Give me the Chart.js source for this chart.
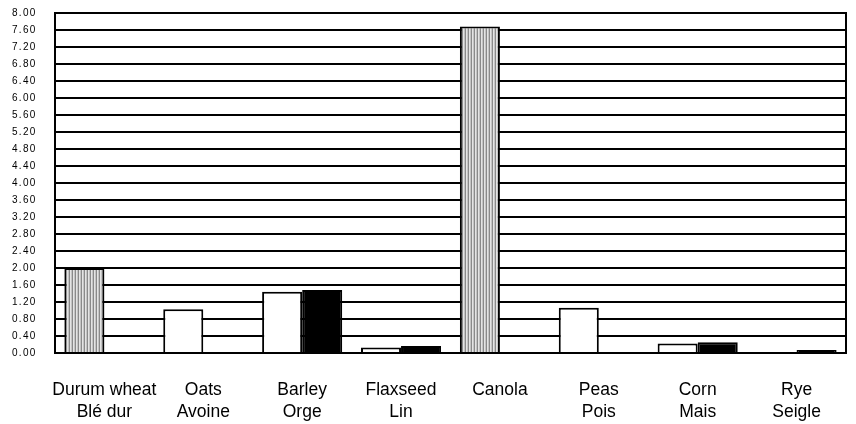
<!DOCTYPE html>
<html>
<head>
<meta charset="utf-8">
<script src="https://cdn.jsdelivr.net/npm/chart.js@4"></script>
<style>
  body { margin: 0; background: #fff; }
  #wrap { width: 856px; height: 424px; }
</style>
</head>
<body>
<div id="wrap"><canvas id="grainChart"></canvas></div>
<script>
// Categories (English / French)
const cultures = [
    ['Durum wheat', 'Blé dur'],
    ['Oats', 'Avoine'],
    ['Barley', 'Orge'],
    ['Flaxseed', 'Lin'],
    ['Canola', ''],
    ['Peas', 'Pois'],
    ['Corn', 'Mais'],
    ['Rye', 'Seigle']
];

// Values
const serieRayee = [2.00, null, null, null, 7.68, null, null, null];
const serieBlanche = [null, 1.03, 1.44, 0.13, null, 1.06, 0.22, null];
const serieNoire = [null, null, 1.48, 0.16, null, null, 0.25, 0.07];

// Motif de rayures verticales
function motifRayures() {
    const c = document.createElement('canvas');
    c.width = 3;
    c.height = 4;
    const g = c.getContext('2d');
    g.fillStyle = '#8a8a8a'; g.fillRect(0, 0, 1, 4);
    g.fillStyle = '#e4e4e4'; g.fillRect(1, 0, 1, 4);
    g.fillStyle = '#c4c4c4'; g.fillRect(2, 0, 1, 4);
    return g.createPattern(c, 'repeat');
}

// Espacement des lettres pour les graduations de l'axe Y
const espacement = {
    id: 'espacement',
    beforeDraw(chart) { chart.ctx.letterSpacing = '1.3px'; },
    beforeDatasetsDraw(chart) { chart.ctx.letterSpacing = '0px'; }
};

const ctx = document.getElementById('grainChart').getContext('2d');
const grainChart = new Chart(ctx, {
    type: 'bar',
    data: {
        labels: cultures,
        datasets: [
            { data: serieRayee, stack: 'a', backgroundColor: motifRayures(), borderColor: '#000', borderWidth: 2 },
            { data: serieBlanche, stack: 'a', backgroundColor: '#fff', borderColor: '#000', borderWidth: 2 },
            { data: serieNoire, stack: 'b', backgroundColor: '#000', borderColor: '#000', borderWidth: 2 }
        ]
    },
    options: {
        responsive: true,
        maintainAspectRatio: false,
        animation: false,
        categoryPercentage: 0.81,
        barPercentage: 1,
        layout: { padding: { top: 13, right: 10, left: 12, bottom: 1 } },
        plugins: {
            legend: { display: false },
            tooltip: { enabled: false }
        },
        scales: {
            x: {
                offset: true,
                grid: { display: true, drawOnChartArea: false, color: 'transparent', tickColor: 'transparent', tickLength: 26 },
                border: { display: true, color: '#000', width: 2 },
                ticks: {
                    z: 1,
                    color: '#000',
                    padding: 0,
                    maxRotation: 0,
                    autoSkip: false,
                    font: { family: 'Arial, "Liberation Sans", sans-serif', size: 17.5, lineHeight: 1.26 }
                }
            },
            y: {
                stacked: true,
                min: 0,
                max: 8,
                grid: { color: '#000', lineWidth: 2, tickColor: 'transparent', tickLength: 23.5 },
                border: { display: true, color: '#000', width: 2 },
                ticks: {
                    stepSize: 0.4,
                    autoSkip: false,
                    crossAlign: 'far',
                    color: '#000',
                    padding: 0,
                    font: { family: 'Arial, "Liberation Sans", sans-serif', size: 10 },
                    callback: v => v.toFixed(2)
                }
            },
            y2: {
                position: 'right',
                min: 0,
                max: 8,
                grid: { display: false, drawTicks: false },
                border: { display: true, color: '#000', width: 2 },
                ticks: { display: false, padding: 0 }
            }
        }
    },
    plugins: [espacement]
});
</script>
</body>
</html>
